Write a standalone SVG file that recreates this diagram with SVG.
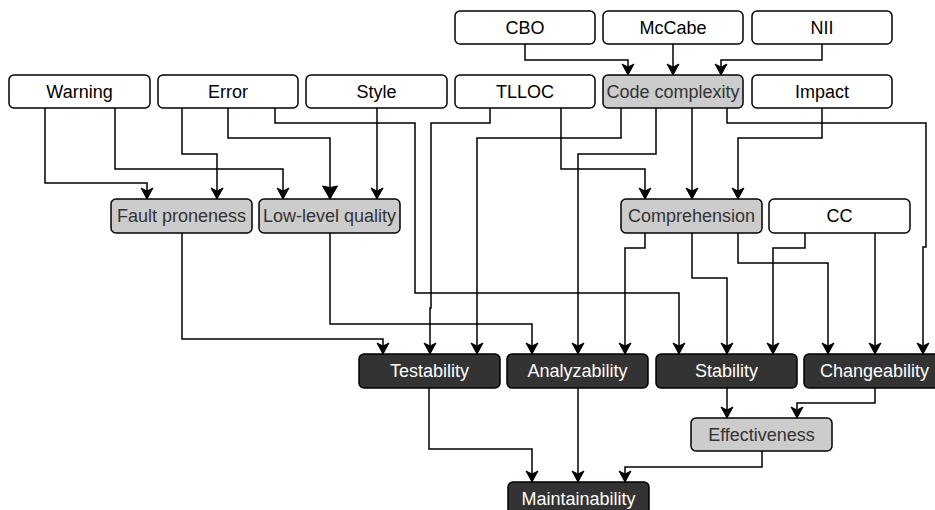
<svg xmlns="http://www.w3.org/2000/svg" width="935" height="510" viewBox="0 0 935 510">
<style>
  rect { stroke: #000; stroke-width: 1.5; }
  .w rect { fill: #fff; }
  .g rect { fill: #cccccc; }
  .d rect { fill: #333333; }
  text { font-family: "Liberation Sans", Arial, sans-serif; font-size: 18px; text-anchor: middle; }
  .w text { fill: #000; }
  .g text { fill: #333; }
  .d text { fill: #fff; }
  #edges path { fill: none; stroke: #000; stroke-width: 1.5; marker-end: url(#a); }
</style>
<defs>
  <marker id="a" viewBox="-1 -1 14 14" markerWidth="14" markerHeight="14" refX="11" refY="6" orient="auto" markerUnits="userSpaceOnUse">
    <path d="M0,0 L11,6 L0,12 L3,6 Z" fill="#000" stroke="#000" stroke-width="1"/>
  </marker>
  <marker id="b" viewBox="-1 -1 16 17" markerWidth="16" markerHeight="17" refX="13" refY="7.5" orient="auto" markerUnits="userSpaceOnUse">
    <path d="M0,0 L13,7.5 L0,15 L1.5,7.5 Z" fill="#000" stroke="#000" stroke-width="1"/>
  </marker>
</defs>

<g id="edges">
  <path d="M525,44 V60 H628 V75"/>
  <path d="M673,44 V75"/>
  <path d="M822,44 V60 H721 V75"/>
  <path d="M45,108 V183 H147 V199"/>
  <path d="M115,108 V169 H283 V199"/>
  <path d="M182,108 V154 H217 V199"/>
  <path d="M228,108 V138 H330 V199" style="marker-end:url(#b)"/>
  <path d="M275,108 V123 H415 V293 H679 V354"/>
  <path d="M377,108 V199"/>
  <path d="M490,108 V123 H431 V308 H430 V354"/>
  <path d="M561,108 V169 H645 V199"/>
  <path d="M621,108 V138 H477 V354"/>
  <path d="M656,108 V154 H578 V354"/>
  <path d="M692,108 V199"/>
  <path d="M727,108 V123 H926 V247 H923 V354"/>
  <path d="M822,108 V138 H738 V199"/>
  <path d="M182,233 V339 H383 V354"/>
  <path d="M330,233 V324 H532 V354"/>
  <path d="M645,233 V248 H625 V354"/>
  <path d="M692,233 V278 H727 V354"/>
  <path d="M738,233 V263 H828 V354"/>
  <path d="M805,233 V248 H773 V354"/>
  <path d="M875,233 V354"/>
  <path d="M429,388 V449 H532 V482"/>
  <path d="M578,388 V482"/>
  <path d="M727,388 V418"/>
  <path d="M875,388 V403 H797 V418"/>
  <path d="M762,451 V467 H625 V482"/>
</g>

<g id="cbo" class="w"><rect x="455" y="11" width="140" height="33" rx="5"/><text x="525" y="34">CBO</text></g>
<g id="mccabe" class="w"><rect x="603" y="11" width="140" height="33" rx="5"/><text x="673" y="34">McCabe</text></g>
<g id="nii" class="w"><rect x="752" y="11" width="140" height="33" rx="5"/><text x="822" y="34">NII</text></g>

<g id="warning" class="w"><rect x="9" y="75" width="141" height="33" rx="5"/><text x="79.5" y="98">Warning</text></g>
<g id="error" class="w"><rect x="158" y="75" width="140" height="33" rx="5"/><text x="228" y="98">Error</text></g>
<g id="style" class="w"><rect x="306" y="75" width="141" height="33" rx="5"/><text x="376.5" y="98">Style</text></g>
<g id="tlloc" class="w"><rect x="455" y="75" width="140" height="33" rx="5"/><text x="525" y="98">TLLOC</text></g>
<g id="codecomplexity" class="g"><rect x="603" y="75" width="140" height="33" rx="5"/><text x="673" y="98">Code complexity</text></g>
<g id="impact" class="w"><rect x="752" y="75" width="140" height="33" rx="5"/><text x="822" y="98">Impact</text></g>

<g id="faultproneness" class="g"><rect x="111" y="199" width="141" height="34" rx="5"/><text x="181.5" y="222">Fault proneness</text></g>
<g id="lowlevelquality" class="g"><rect x="259" y="199" width="141" height="34" rx="5"/><text x="329.5" y="222">Low-level quality</text></g>
<g id="comprehension" class="g"><rect x="621" y="199" width="141" height="34" rx="5"/><text x="691.5" y="222">Comprehension</text></g>
<g id="cc" class="w"><rect x="769" y="199" width="141" height="34" rx="5"/><text x="839.5" y="222">CC</text></g>

<g id="testability" class="d"><rect x="359" y="354" width="141" height="34" rx="5"/><text x="429.5" y="377">Testability</text></g>
<g id="analyzability" class="d"><rect x="507" y="354" width="141" height="34" rx="5"/><text x="577.5" y="377">Analyzability</text></g>
<g id="stability" class="d"><rect x="656" y="354" width="141" height="34" rx="5"/><text x="726.5" y="377">Stability</text></g>
<g id="changeability" class="d"><rect x="804" y="354" width="141" height="34" rx="5"/><text x="874.5" y="377">Changeability</text></g>

<g id="effectiveness" class="g"><rect x="691" y="418" width="141" height="33" rx="5"/><text x="761.5" y="441">Effectiveness</text></g>
<g id="maintainability" class="d"><rect x="508" y="482" width="141" height="34" rx="5"/><text x="578.5" y="505">Maintainability</text></g>
</svg>
